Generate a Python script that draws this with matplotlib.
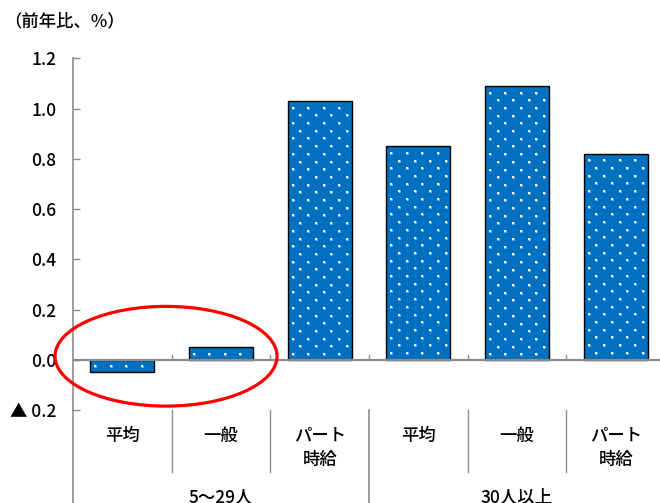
import matplotlib
matplotlib.use("Agg")
import numpy as np
import matplotlib.pyplot as plt
import matplotlib.transforms as mtransforms
from matplotlib.patches import Ellipse

plt.rcParams['font.family'] = ['Noto Sans CJK JP', 'DejaVu Sans']
plt.rcParams['font.weight'] = 'medium'

categories = ['平均', '一般', 'パート\n時給', '平均', '一般', 'パート\n時給']
groups = ['5〜29人', '30人以上']
values = [-0.05, 0.05, 1.03, 0.85, 1.09, 0.82]
yticks = [-0.2, 0.0, 0.2, 0.4, 0.6, 0.8, 1.0, 1.2]
ytick_labels = ['▲ 0.2', '0.0', '0.2', '0.4', '0.6', '0.8', '1.0', '1.2']

W, H = 660, 503
fig = plt.figure(figsize=(W / 100, H / 100), dpi=100)
ax_left, ax_right = 73 / W, 665 / W
ax_bot, ax_top = (H - 410) / H, (H - 58.3) / H
ax = fig.add_axes([ax_left, ax_bot, ax_right - ax_left, ax_top - ax_bot])

gray = '#8c8c8c'
bw = 0.65
x = list(range(len(values)))
bars = ax.bar(x, values, width=bw, color='#0070C0', edgecolor='black',
              linewidth=1.0, zorder=2)

ax.set_xlim(-0.5, len(values) - 0.5)
ax.set_ylim(-0.2, 1.2)

# dotted texture inside the bars (pixel-based lattice)
xpx = (ax_right - ax_left) * W / (len(values))   # px per category
ypx = (ax_top - ax_bot) * H / 1.4                # px per unit value
ddx, ddy = 15.5 / xpx, 7.7 / ypx
for rect, v in zip(bars, values):
    x0 = rect.get_x()
    x1 = x0 + rect.get_width()
    top, bot = max(v, 0), min(v, 0)
    px_list, py_list = [], []
    yy = top - 6.6 / ypx
    row = 0
    while yy > bot:
        xs = np.arange(x0 + 5 / xpx + (row % 2) * ddx / 2, x1, ddx)
        px_list.extend(xs)
        py_list.extend([yy] * len(xs))
        yy -= ddy
        row += 1
    if px_list:
        sc = ax.scatter(px_list, py_list, s=4.5, marker='o', color='#8fc0ea',
                        linewidths=0, zorder=2.5)
        sc.set_clip_path(rect)
        sc2 = ax.scatter(px_list, py_list, s=1.6, marker='s', color='#f2f8fd',
                         linewidths=0, zorder=2.6)
        sc2.set_clip_path(rect)

ax.set_yticks(yticks)
ax.set_yticklabels(ytick_labels, fontsize=12.5)
ax.tick_params(axis='y', direction='in', length=5, width=1.0, color=gray, pad=12)
ax.set_xticks([])
for s in ['top', 'right', 'bottom']:
    ax.spines[s].set_visible(False)
ax.spines['left'].set_color(gray)
ax.spines['left'].set_linewidth(1.2)

# zero line with small upward ticks at category boundaries
ax.axhline(0, color=gray, linewidth=1.6, zorder=4)
trans = mtransforms.blended_transform_factory(ax.transData, ax.transAxes)
px = 1 / (ax_top - ax_bot) / H  # axes fraction per pixel
zero_frac = 0.2 / 1.4
for b in [0.5, 1.5, 2.5, 3.5, 4.5]:
    ax.plot([b, b], [zero_frac, zero_frac + 5 * px], color=gray, lw=1.0,
            transform=trans, clip_on=False, zorder=4)

# category separators below axis
for b in [0.5, 1.5, 3.5, 4.5]:
    ax.plot([b, b], [0, -62 * px], color=gray, lw=1.0, transform=trans, clip_on=False)
for b in [-0.5, 2.5, 5.5]:
    ax.plot([b, b], [0, -100 * px], color=gray, lw=1.2, transform=trans, clip_on=False)

# category labels
for i, c in enumerate(categories):
    ax.text(i, -17 * px, c, transform=trans, ha='center', va='top',
            fontsize=12.5, linespacing=1.42)
for g, gl in enumerate(groups):
    ax.text(g * 3 + 1, -79 * px, gl, transform=trans, ha='center', va='top', fontsize=12.5)

# red ellipse highlight
ell = Ellipse((0.443, 0.014), width=2.25, height=0.397, fill=False,
              edgecolor='#ff0000', linewidth=2.3, clip_on=False, zorder=5)
ax.add_patch(ell)

fig.text(4 / W, 1 - 21 / H, '（前年比、%）', ha='left', va='center', fontsize=12.5)

fig.savefig('out.png', dpi=100)
